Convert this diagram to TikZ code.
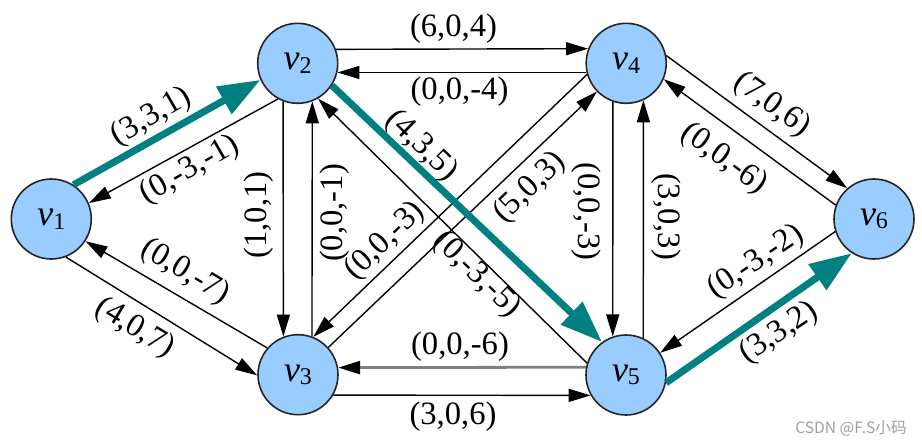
\documentclass[tikz,border=0pt]{standalone}
\usepackage{fontspec}
\setmainfont{Liberation Serif}
\newfontfamily\cjkfont{Noto Sans CJK SC}
\usetikzlibrary{arrows.meta}
\definecolor{nodeblue}{RGB}{153,204,255}
\definecolor{flowteal}{RGB}{0,128,128}
\newcommand\vx[1]{{\fontsize{18}{20}\selectfont\itshape v}\raisebox{-0.4ex}{\fontsize{12}{13}\selectfont #1}}
\begin{document}
\begin{tikzpicture}[x=0.5pt,y=-0.5pt,
  vtx/.style={circle,draw=black!85,line width=0.8pt,fill=nodeblue,minimum size=40pt,inner sep=0pt},
  edge/.style={line width=0.7pt,-{Triangle[length=11pt,width=6.5pt]}},
  grayedge/.style={draw=gray,line width=1.4pt,-{Triangle[length=11pt,width=6.5pt,color=black]}},
  flow/.style={line width=3.5pt,draw=flowteal,-{Triangle[length=21pt,width=15pt]}},
  lbl/.style={font=\fontsize{16.3}{18}\selectfont,inner sep=0pt},
  wmark/.style={font=\cjkfont\fontsize{7.8}{9}\selectfont,text=gray!75,inner sep=0pt,anchor=east}
]
\useasboundingbox (0,0) rectangle (922,445);

\node[vtx] (v1) at (51.3,219) {\vx1};
\node[vtx] (v2) at (297.7,63.3) {\vx2};
\node[vtx] (v3) at (298,374.7) {\vx3};
\node[vtx] (v4) at (626.2,63.3) {\vx4};
\node[vtx] (v5) at (626,375) {\vx5};
\node[vtx] (v6) at (874,219) {\vx6};

\draw[flow] (v1.57.7) -- (v2.204.9);
\draw[edge] (v2.241) -- (v1.23.2);
\draw[edge] (v3.139.7) -- (v1.-33.4);
\draw[edge] (v1.-69.7) -- (v3.181.3);
\draw[edge] (v2.-111.1) -- (v3.111.6);
\draw[edge] (v3.70) -- (v2.-69.5);
\draw[edge] (v2.20.5) -- (v4.159.5);
\draw[edge] (v4.193.6) -- (v2.-13.6);
\draw[edge] (v5.163.3) -- (v2.-60.2);
\draw[edge] (v4.196) -- (v3.68.9);
\draw[edge] (v3.42.9) -- (v4.224.4);
\draw[flow] (v2.-33.2) -- (v5.126.6);
\draw[edge] (v4.-109.3) -- (v5.109);
\draw[edge] (v5.65.6) -- (v4.-65.6);
\draw[edge] (v4.11) -- (v6.131.6);
\draw[edge] (v6.160.8) -- (v4.-23.2);
\draw[edge] (v6.198.8) -- (v5.33.5);
\draw[flow] (v5.-11.4) -- (v6.237.3);
\draw[grayedge] (v5.169.5) -- (v3.10.5);
\draw[edge] (v3.-30) -- (v5.210);

\node[lbl,rotate=30] (l1) at (151.5,117) {(3,3,1)};
\node[lbl,rotate=30] (l2) at (190,170) {(0,-3,-1)};
\node[lbl,rotate=-31] (l3) at (185,272) {(0,0,-7)};
\node[lbl,rotate=-31] (l4) at (135,328) {(4,0,7)};
\node[lbl,rotate=90] (l5) at (259,215) {(1,0,1)};
\node[lbl,rotate=90] (l6) at (335,213) {(0,0,-1)};
\node[lbl] (l7) at (453.5,29) {(6,0,4)};
\node[lbl] (l8) at (459.5,92) {(0,0,-4)};
\node[lbl,rotate=-44] (l9) at (421.5,146) {(4,3,5)};
\node[lbl,rotate=44] (l10) at (385,241) {(0,0,-3)};
\node[lbl,rotate=-44] (l11) at (477,275) {(0,-3,-5)};
\node[lbl,rotate=44] (l12) at (530,188) {(5,0,3)};
\node[lbl,rotate=-90] (l13) at (586,211.5) {(0,0,-3)};
\node[lbl,rotate=-90] (l14) at (666.5,216.5) {(3,0,3)};
\node[lbl,rotate=-36] (l15) at (772,105) {(7,0,6)};
\node[lbl,rotate=-36] (l16) at (724,159) {(0,0,-6)};
\node[lbl,rotate=34] (l17) at (756,262) {(0,-3,-2)};
\node[lbl,rotate=34] (l18) at (779,333) {(3,3,2)};
\node[lbl] (l19) at (460,347) {(0,0,-6)};
\node[lbl] (l20) at (453,417) {(3,0,6)};

\node[wmark] (wm) at (907,428) {CSDN @F.S小码};
\end{tikzpicture}
\end{document}
